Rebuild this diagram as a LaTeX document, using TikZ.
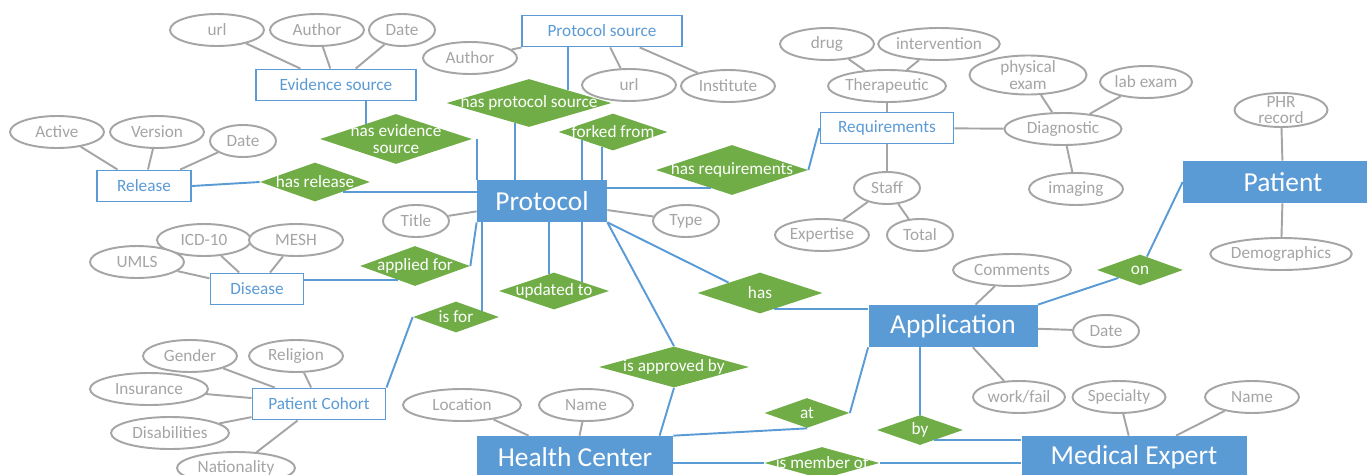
\documentclass[tikz,border=0pt]{standalone}
\usepackage{fontspec}
\setmainfont{Carlito}
\usetikzlibrary{calc, positioning, shapes.geometric}

\definecolor{erblue}{HTML}{5B9BD5}
\definecolor{ergreen}{HTML}{70AD47}
\definecolor{ergray}{HTML}{A5A5A5}

\tikzset{
  entity/.style={rectangle, fill=erblue, text=white, font=\fontsize{15.6}{18}\selectfont,
    minimum width=#1*0.02cm, minimum height=0.84cm, inner sep=0pt},
  weak/.style={rectangle, draw=erblue, line width=1.1pt, fill=white, text=erblue,
    font=\fontsize{9.8}{11}\selectfont, minimum width=#1*0.02cm, minimum height=0.62cm, inner sep=0pt},
  attr/.style={ellipse, draw=ergray, line width=1.1pt, fill=white, text=ergray,
    font=\fontsize{9.8}{11}\selectfont, minimum width=#1*0.02cm, minimum height=0.64cm, inner sep=0pt},
  attrtext/.style={text=ergray, font=\fontsize{9.8}{9.2}\selectfont, align=center, inner sep=0pt},
  reltext/.style={text=white, font=\fontsize{9.8}{9.2}\selectfont, align=center, inner sep=0pt},
  rel/.style n args={3}{diamond, fill=ergreen, minimum width=#1*0.02cm, minimum height=#2*0.02cm,
    inner sep=0pt, label={[reltext]center:#3}},
  link/.style={erblue, line width=1.1pt},
  prop/.style={ergray, line width=1.1pt},
}

\begin{document}
\begin{tikzpicture}[x=0.02cm, y=-0.02cm]
    \useasboundingbox (0,0) rectangle (1367,474);
    \clip (0,0) rectangle (1367,474);
    % entities
    \node[entity=130] (protocol) at (542,201) {Protocol};
    \node[entity=169] (app) at (953,326) {Application};
    \node[entity=200] (patient) at (1283,182) {Patient};
    \node[entity=196] (hc) at (575,457) {Health Center};
    \node[entity=225] (medexp) at (1134,457) {Medical Expert};
    % weak entities
    \node[weak=160] (evsrc) at (336,85) {Evidence source};
    \node[weak=160] (prsrc) at (602,31) {Protocol source};
    \node[weak=94] (release) at (144,186) {Release};
    \node[weak=133] (req) at (887,128) {Requirements};
    \node[weak=93] (disease) at (257,289) {Disease};
    \node[weak=133] (cohort) at (319,404) {Patient Cohort};
    % relations
    \node[rel={152}{50}{has evidence\\source}] (hasev) at (396,139) {};
    \node[rel={165}{48}{has protocol source}] (hasps) at (529,103) {};
    \node[rel={109}{37}{forked from}] (forked) at (613,132) {};
    \node[rel={152}{50}{has requirements}] (hasreq) at (732,170) {};
    \node[rel={110}{39}{has release}] (hasrls) at (315,182) {};
    \node[rel={110}{40}{applied for}] (applied) at (415,266) {};
    \node[rel={86}{31}{is for}] (isfor) at (456,317) {};
    \node[rel={110}{37}{updated to}] (updated) at (554,291) {};
    \node[rel={125}{41}{has}] (hasapp) at (760,293) {};
    \node[rel={150}{41}{is approved by}] (approved) at (674,367) {};
    \node[rel={85}{30}{at}] (atrel) at (807,413) {};
    \node[rel={86}{30}{by}] (byrel) at (920,430) {};
    \node[rel={86}{31}{on}] (onrel) at (1140,270) {};
    \node[rel={115}{32}{is member of}] (member) at (822,463) {};
    % attributes
    \foreach \n/\x/\y/\w/\t in {urlE/217/30/94/url, authE/317/30/94/Author, dateE/402/30/66/Date,
        authP/470/58/94/Author, urlP/629/85/94/url, inst/728/86/94/Institute,
        active/57/132/94/Active, version/157/132/94/Version, dateR/243/141/66/Date,
        title/416/221/66/Title, type/686/221/66/Type,
        icd/204/240/94/ICD-10, mesh/296/240/94/MESH, umls/137/262/94/UMLS,
        gender/190/356/94/Gender, religion/296/356/94/Religion, insur/149/389/118/Insurance,
        disab/170/433/118/Disabilities, nation/236/468/118/Nationality,
        location/462/405/118/Location, nameH/586/405/94/Name,
        drug/827/44/94/drug, interv/939/44/118/intervention, therap/887/86/117/Therapeutic,
        labex/1146/82/92/lab exam, diag/1063/129/117/Diagnostic, imaging/1076/189/94/imaging,
        staff/887/188/66/Staff, expertise/822/235/94/Expertise, total/920/235/66/Total,
        demo/1281/254/133/Demographics, comments/1012/270/118/Comments, dateA/1106/331/66/Date,
        workfail/1019/397/92/{work/fail}, special/1119/397/93/Specialty, nameM/1252/397/94/Name} {
        \node[attr=\w] (\n) at (\x,\y) {\t};
    }
    \node[attr=117, minimum height=0.78cm, label={[attrtext]center:physical\\exam}] (physex) at (1028,75) {};
    \node[attr=93, minimum height=0.68cm, label={[attrtext]center:PHR\\record}] (phr) at (1281,110) {};
    % attribute lines
    \foreach \a/\b in {urlE/evsrc, authE/evsrc, dateE/evsrc, authP/prsrc, urlP/prsrc, inst/prsrc,
        active/release, version/release, dateR/release, title/protocol, type/protocol,
        icd/disease, mesh/disease, umls/disease, gender/cohort, religion/cohort, insur/cohort,
        disab/cohort, nation/cohort, location/hc, nameH/hc, drug/therap, interv/therap,
        therap/req, req/diag, physex/diag, labex/diag, diag/imaging, req/staff,
        staff/expertise, staff/total, phr/patient, patient/demo, comments/app, app/dateA,
        app/workfail, special/medexp, nameM/medexp}
        \draw[prop] (\a) -- (\b);
    % relation links
    \coordinate (evin) at ($(hasev.north)!0.39!(hasev.west)$);
    \draw[link] (evin) -- (evin |- evsrc.south);
    \draw[link] (protocol.north west) -- (protocol.north west |- hasev.east);
    \draw[link] (release.east) -- (hasrls.west);
    \draw[link] (hasrls.south east) -- (hasrls.south east -| protocol.west);
    \coordinate (psin) at ($(hasps.north)!0.47!(hasps.east)$);
    \draw[link] (psin) -- (psin |- prsrc.south);
    \coordinate (psout) at ($(hasps.south)!0.17!(hasps.west)$);
    \draw[link] (psout) -- (psout |- protocol.north);
    \foreach \t in {0.2, 0.57} {
        \coordinate (ffout) at ($(forked.south)!\t!(forked.west)$);
        \draw[link] (ffout) -- (ffout |- protocol.north);
    }
    \coordinate (reqin) at ($(hasreq.south)!0.28!(hasreq.west)$);
    \draw[link] (reqin) -- (reqin -| protocol.east);
    \draw[link] (hasreq.east) -- (req.west);
    \draw[link] (protocol.south west) -- (applied.east);
    \coordinate (disin) at ($(applied.south)!0.3!(applied.west)$);
    \draw[link] (disin) -- (disin -| disease.east);
    \coordinate (forin) at ($(isfor.north)!0.6!(isfor.east)$);
    \draw[link] (forin) -- (forin |- protocol.south);
    \draw[link] (isfor.west) -- (cohort.north east);
    \coordinate (updl) at ($(updated.north)!0.09!(updated.west)$);
    \coordinate (updr) at ($(updated.north)!0.51!(updated.east)$);
    \draw[link] (updl) -- (updl |- protocol.south);
    \draw[link] (updr) -- (updr |- protocol.south);
    \draw[link] (protocol.south east) -- (approved.north);
    \draw[link] (approved.south) -- ($(hc.north east)!0.07!(hc.north west)$);
    \draw[link] (protocol.south east) -- (hasapp.north west);
    \coordinate (hasout) at ($(hasapp.south)!0.22!(hasapp.east)$);
    \draw[link] (hasout) -- (hasout -| app.west);
    \draw[link] (app.south west) -- (atrel.east);
    \draw[link] (atrel.south) -- (hc.north east);
    \draw[link] (byrel.north) -- (byrel.north |- app.south);
    \coordinate (byout) at ($(byrel.south)!0.33!(byrel.east)$);
    \draw[link] (byout) -- (byout -| medexp.west);
    \draw[link] (member.west) -- (member.west -| hc.east);
    \draw[link] (member.east) -- (member.east -| medexp.west);
    \draw[link] (app.north east) -- (onrel.south west);
    \draw[link] ($(onrel.north)!0.16!(onrel.east)$) -- (patient.west);
\end{tikzpicture}
\end{document}
